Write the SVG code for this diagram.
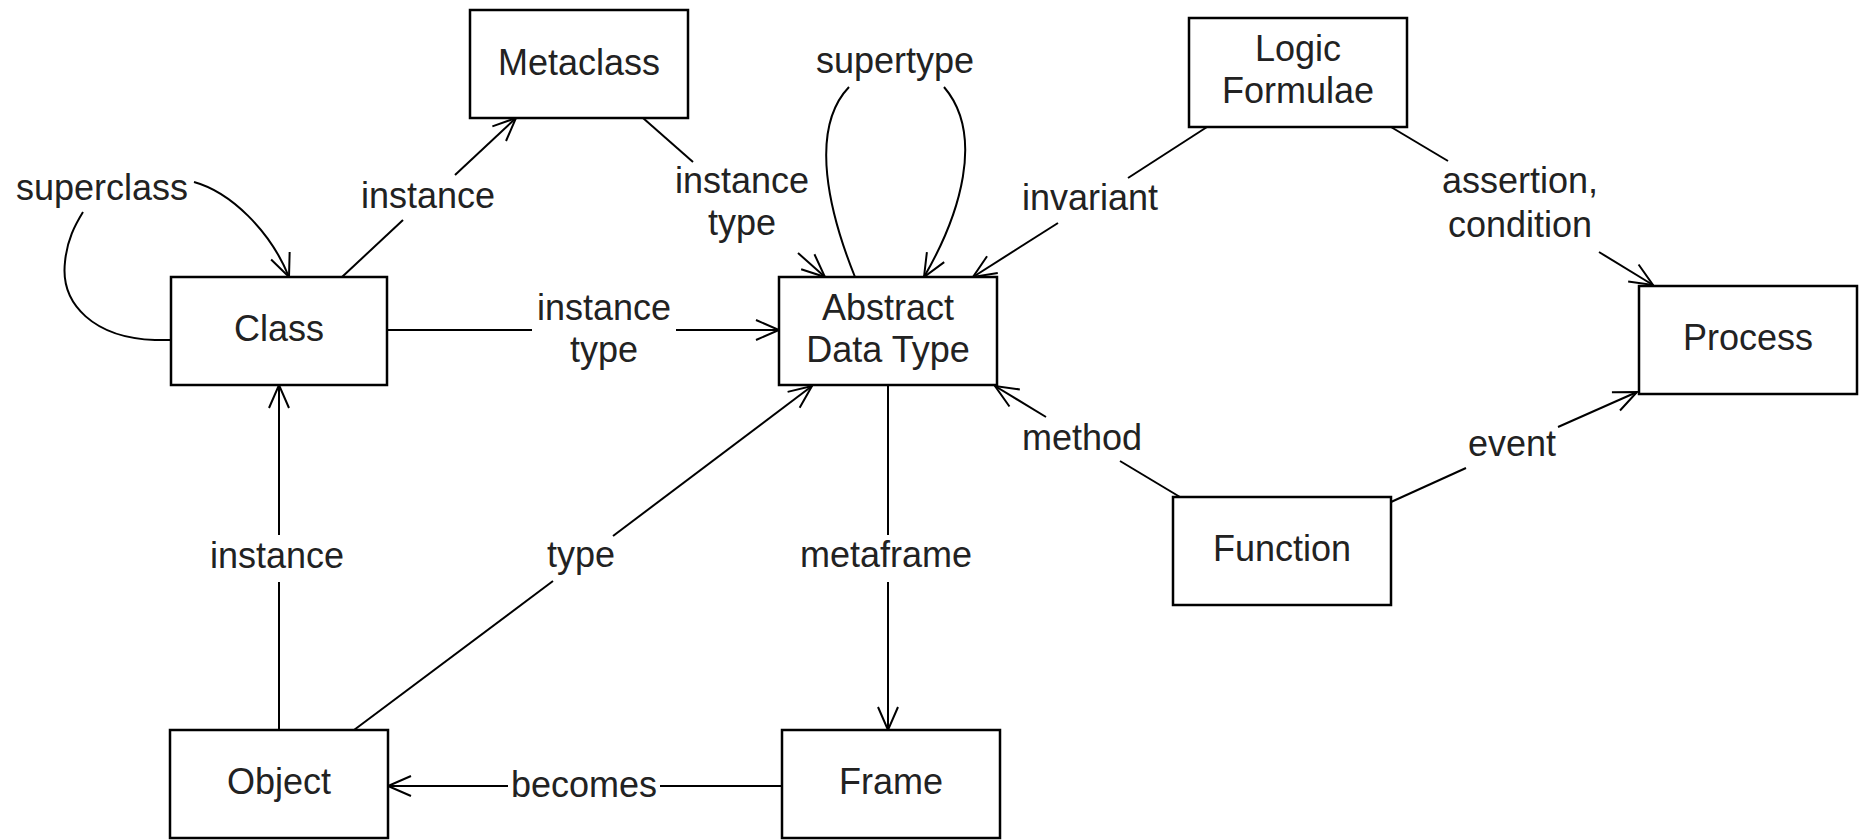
<svg xmlns="http://www.w3.org/2000/svg" width="1864" height="840" viewBox="0 0 1864 840">
<style>
.box{fill:#fff;stroke:#000;stroke-width:2.5}
.t{font-family:"Liberation Sans",Arial,sans-serif;font-size:36px;fill:#222;text-anchor:middle}
.c{fill:none;stroke:#000;stroke-width:2}
.a{marker-end:url(#arr)}
</style>
<defs>
<marker id="arr" markerUnits="userSpaceOnUse" viewBox="-2 -2 28 24" refX="23" refY="10" markerWidth="28" markerHeight="24" orient="auto">
<path d="M0,0 L23,10 L0,20" fill="none" stroke="#000" stroke-width="2"/>
</marker>
</defs>
<rect width="1864" height="840" fill="#fff"/>
<g id="connectors">
<path class="c" d="M171,340 L155,340 C95,338 60,305 65,262 C67,240 75,225 83,212"/>
<path class="c a" d="M194,182 C230,192 270,230 289,277"/>
<text class="t" x="102" y="200">superclass</text>
<path class="c" d="M342,277 L403,220"/>
<path class="c a" d="M455,175 L516,118"/>
<text class="t" x="428" y="208">instance</text>
<path class="c" d="M643,118 L693,162"/>
<path class="c a" d="M798,253 L825,277"/>
<text class="t" x="742" y="193">instance</text>
<text class="t" x="742" y="235">type</text>
<path class="c" d="M387,330 L532,330"/>
<path class="c a" d="M676,330 L779,330"/>
<text class="t" x="604" y="320">instance</text>
<text class="t" x="604" y="362">type</text>
<path class="c" d="M855,277 C830,215 808,130 849,87"/>
<path class="c a" d="M944,87 C985,135 960,215 924,277"/>
<text class="t" x="895" y="73">supertype</text>
<path class="c" d="M1207,127 L1128,178"/>
<path class="c a" d="M1058,223 L973,277"/>
<text class="t" x="1090" y="210">invariant</text>
<path class="c" d="M1391,127 L1448,161"/>
<path class="c a" d="M1599,252 L1653,285"/>
<text class="t" x="1520" y="193">assertion,</text>
<text class="t" x="1520" y="237">condition</text>
<path class="c" d="M1180,497 L1120,461"/>
<path class="c a" d="M1046,417 L995,386"/>
<text class="t" x="1082" y="450">method</text>
<path class="c" d="M1391,502 L1466,468"/>
<path class="c a" d="M1558,427 L1637,392"/>
<text class="t" x="1512" y="456">event</text>
<path class="c" d="M888,385 L888,535"/>
<path class="c a" d="M888,582 L888,730"/>
<text class="t" x="886" y="567">metaframe</text>
<path class="c" d="M354,730 L553,581"/>
<path class="c a" d="M613,536 L812,386"/>
<text class="t" x="581" y="567">type</text>
<path class="c" d="M279,730 L279,582"/>
<path class="c a" d="M279,535 L279,385"/>
<text class="t" x="277" y="568">instance</text>
<path class="c" d="M782,786 L660,786"/>
<path class="c a" d="M508,786 L388,786"/>
<text class="t" x="584" y="797">becomes</text>
</g>
<g id="metaclass"><rect class="box" x="470" y="10" width="218" height="108"/><text class="t" x="579" y="75">Metaclass</text></g>
<g id="logic"><rect class="box" x="1189" y="18" width="218" height="109"/><text class="t" x="1298" y="61">Logic</text><text class="t" x="1298" y="103">Formulae</text></g>
<g id="class"><rect class="box" x="171" y="277" width="216" height="108"/><text class="t" x="279" y="341">Class</text></g>
<g id="adt"><rect class="box" x="779" y="277" width="218" height="108"/><text class="t" x="888" y="320">Abstract</text><text class="t" x="888" y="362">Data Type</text></g>
<g id="process"><rect class="box" x="1639" y="286" width="218" height="108"/><text class="t" x="1748" y="350">Process</text></g>
<g id="function"><rect class="box" x="1173" y="497" width="218" height="108"/><text class="t" x="1282" y="561">Function</text></g>
<g id="object"><rect class="box" x="170" y="730" width="218" height="108"/><text class="t" x="279" y="794">Object</text></g>
<g id="frame"><rect class="box" x="782" y="730" width="218" height="108"/><text class="t" x="891" y="794">Frame</text></g>
</svg>
